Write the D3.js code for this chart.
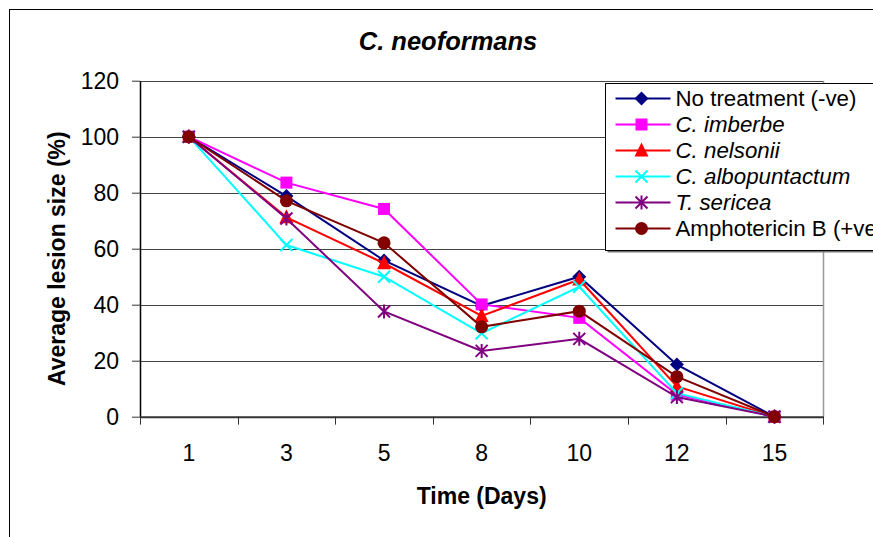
<!DOCTYPE html>
<html>
<head>
<meta charset="utf-8">
<script src="https://cdn.jsdelivr.net/npm/d3@7"></script>
<style>
  html, body { margin: 0; padding: 0; background: #fff; }
  svg { display: block; font-family: "Liberation Sans", Arial, sans-serif; }
</style>
</head>
<body>
<svg id="chart" width="873" height="537"></svg>
<script>
// Lesion size over time for each treatment
const days = ["1", "3", "5", "8", "10", "12", "15"];
const yTicks = [0, 20, 40, 60, 80, 100, 120];

const noTreatment   = [100, 78.8, 55.8, 39.6, 50.0, 18.6, 0];
const cImberbe      = [100, 83.6, 74.2, 40.1, 35.3, 7.9, 0];
const cNelsonii     = [100, 71.2, 54.8, 36.0, 49.0, 10.8, 0];
const cAlbopuntactum= [100, 61.3, 50.0, 29.8, 46.4, 8.4, 0];
const tSericea      = [100, 70.8, 37.6, 23.5, 27.8, 7.0, 0];
const amphotericinB = [100, 77.1, 62.1, 32.1, 37.7, 14.3, 0];

const seriesNames  = ["No treatment (-ve)", "C. imberbe", "C. nelsonii", "C. albopuntactum", "T. sericea", "Amphotericin B (+ve)"];
const seriesItalic = [false, true, true, true, true, false];
const seriesColors = ["#000080", "#FF00FF", "#FF0000", "#00FFFF", "#800080", "#800000"];
const seriesMarkers = ["diamond", "square", "triangle", "cross", "asterisk", "circle"];
const seriesValues = [noTreatment, cImberbe, cNelsonii, cAlbopuntactum, tSericea, amphotericinB];

const series = seriesNames.map((name, i) => ({
  name, italic: seriesItalic[i], color: seriesColors[i], marker: seriesMarkers[i],
  values: seriesValues[i]
}));

const svg = d3.select("#chart");

// Outer chart frame
svg.append("rect")
  .attr("x", 9.5).attr("y", 9.5).attr("width", 900).attr("height", 600)
  .attr("fill", "#fff").attr("stroke", "#000").attr("stroke-width", 1);

const plot = { left: 140, right: 823.3, top: 80.7, bottom: 416.7 };

const x = d3.scaleBand().domain(days).range([plot.left, plot.right]).padding(0);
const y = d3.scaleLinear().domain([0, 120]).range([plot.bottom, plot.top]);

// Horizontal gridlines
svg.append("g").selectAll("line")
  .data(yTicks.filter(t => t > 0))
  .join("line")
  .attr("x1", plot.left).attr("x2", plot.right)
  .attr("y1", d => Math.round(y(d)) + 0.5).attr("y2", d => Math.round(y(d)) + 0.5)
  .attr("stroke", "#444").attr("stroke-width", 1);

// Right border of plot area
svg.append("line")
  .attr("x1", Math.round(plot.right) + 0.5).attr("x2", Math.round(plot.right) + 0.5)
  .attr("y1", y(120)).attr("y2", y(0))
  .attr("stroke", "#999").attr("stroke-width", 1.5);

// Y axis
const yAxis = svg.append("g")
  .attr("transform", `translate(${plot.left},0)`)
  .call(d3.axisLeft(y).tickValues(yTicks).tickSize(8).tickPadding(13).tickSizeOuter(0));
yAxis.select(".domain").attr("stroke", "#000").attr("stroke-width", 1.5);
yAxis.selectAll(".tick line").attr("stroke", "#333");
yAxis.selectAll(".tick text")
  .attr("font-size", 23).attr("fill", "#000")
  .style("font-family", "'Liberation Sans', Arial, sans-serif");

// X axis: labels centered in bands, ticks on band edges
const xAxis = svg.append("g")
  .attr("transform", `translate(0,${plot.bottom})`)
  .call(d3.axisBottom(x).tickSize(0).tickPadding(28).tickSizeOuter(0));
xAxis.select(".domain").attr("stroke", "#333").attr("stroke-width", 2);
xAxis.selectAll(".tick text")
  .attr("font-size", 23).attr("fill", "#000")
  .style("font-family", "'Liberation Sans', Arial, sans-serif");
const edges = days.map(d => x(d)).concat([x(days[days.length - 1]) + x.bandwidth()]);
xAxis.append("g").selectAll("line")
  .data(edges)
  .join("line")
  .attr("x1", d => Math.round(d) + 0.5).attr("x2", d => Math.round(d) + 0.5)
  .attr("y1", 0).attr("y2", 8)
  .attr("stroke", "#333").attr("stroke-width", 1);

// Marker shapes
function drawMarker(g, type, color, size) {
  const h = size / 2;
  switch (type) {
    case "diamond":
      g.append("path").attr("d", `M0,${-h - 1}L${h + 1},0L0,${h + 1}L${-h - 1},0Z`).attr("fill", color);
      break;
    case "square":
      g.append("rect").attr("x", -h).attr("y", -h).attr("width", size).attr("height", size).attr("fill", color);
      break;
    case "triangle":
      g.append("path").attr("d", `M0,${-h - 2}L${h + 1},${h}L${-h - 1},${h}Z`).attr("fill", color);
      break;
    case "cross":
      g.append("path").attr("d", `M${-h},${-h}L${h},${h}M${-h},${h}L${h},${-h}`)
        .attr("stroke", color).attr("stroke-width", 2).attr("fill", "none");
      break;
    case "asterisk":
      g.append("path").attr("d", `M${-h},${-h}L${h},${h}M${-h},${h}L${h},${-h}M0,${-h - 1}L0,${h + 1}`)
        .attr("stroke", color).attr("stroke-width", 2).attr("fill", "none");
      break;
    case "circle":
      g.append("circle").attr("r", h + 0.5).attr("fill", color);
      break;
  }
}

const line = d3.line()
  .x((d, i) => x(days[i]) + x.bandwidth() / 2)
  .y(d => y(d));

// Series lines and markers
series.forEach(s => {
  const g = svg.append("g");
  g.append("path")
    .attr("d", line(s.values))
    .attr("fill", "none").attr("stroke", s.color).attr("stroke-width", 2);
  s.values.forEach((v, i) => {
    const m = g.append("g")
      .attr("transform", `translate(${x(days[i]) + x.bandwidth() / 2},${y(v)})`);
    drawMarker(m, s.marker, s.color, 12);
  });
});

// Title
svg.append("text")
  .attr("x", 448).attr("y", 50)
  .attr("text-anchor", "middle")
  .attr("font-size", 25.5).attr("font-weight", "bold").attr("font-style", "italic")
  .text("C. neoformans");

// Axis titles
svg.append("text")
  .attr("x", (plot.left + plot.right) / 2).attr("y", 504)
  .attr("text-anchor", "middle")
  .attr("font-size", 23).attr("font-weight", "bold")
  .text("Time (Days)");

svg.append("text")
  .attr("transform", `translate(65,${(plot.top + plot.bottom) / 2 + 10}) rotate(-90)`)
  .attr("text-anchor", "middle")
  .attr("font-size", 23).attr("font-weight", "bold")
  .text("Average lesion size (%)");

// Legend
const legend = svg.append("g").attr("transform", "translate(605.5,83.5)");
legend.append("rect")
  .attr("x", 2).attr("y", 2).attr("width", 300).attr("height", 167)
  .attr("fill", "#777");
legend.append("rect")
  .attr("x", 0).attr("y", 0).attr("width", 300).attr("height", 167)
  .attr("fill", "#fff").attr("stroke", "#000").attr("stroke-width", 1);

series.forEach((s, i) => {
  const row = legend.append("g").attr("transform", `translate(0,${15 + i * 26})`);
  row.append("line")
    .attr("x1", 10).attr("x2", 65).attr("y1", 0).attr("y2", 0)
    .attr("stroke", s.color).attr("stroke-width", 2);
  const m = row.append("g").attr("transform", "translate(36,0)");
  drawMarker(m, s.marker, s.color, 12);
  row.append("text")
    .attr("x", 70).attr("y", 0).attr("dy", "0.35em")
    .attr("font-size", 22.3)
    .attr("font-style", s.italic ? "italic" : "normal")
    .text(s.name);
});
</script>
</body>
</html>
